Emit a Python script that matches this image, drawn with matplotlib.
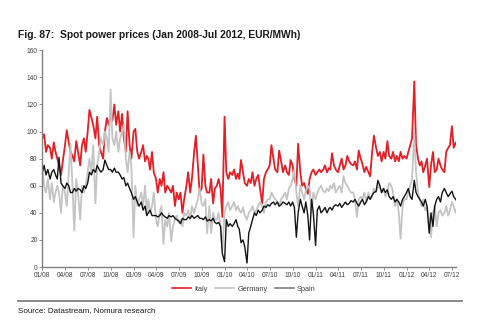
import matplotlib
matplotlib.use("Agg")
import matplotlib.pyplot as plt
import matplotlib.dates as mdates
import pandas as pd
from matplotlib.lines import Line2D

plt.rcParams['font.family'] = ['Liberation Sans', 'DejaVu Sans']

# Weekly spot prices, EUR/MWh, four readings per month (Jan 2008 - Jul 2012)
italy = [
    95, 98, 85, 90,   88, 80, 92, 85,   80, 75, 68, 78,   90, 101, 92, 85,
    82, 78, 93, 85,   75, 90, 95, 85,   100, 116, 110, 105, 95, 111, 90, 85,
    80, 100, 110, 105, 112, 108, 120, 105, 115, 100, 113, 95, 85, 115, 90, 80,
    100, 102, 85, 80, 85, 90, 78, 82,  80, 72, 85, 70,   65, 55, 65, 60,
    70, 55, 60, 58,   55, 60, 45, 55,  50, 55, 40, 50,   60, 70, 55, 65,
    85, 97, 75, 55,   58, 83, 60, 55,  55, 65, 47, 58,   60, 65, 58, 37,
    111, 70, 65, 70,  68, 72, 65, 69,  65, 79, 70, 62,   60, 65, 62, 70,
    60, 65, 68, 58,   47, 65, 70, 72,  75, 90, 80, 72,   70, 86, 78, 70,
    75, 70, 68, 79,   75, 65, 60, 91,  70, 60, 62, 58,   54, 65, 70, 72,
    68, 70, 72, 70,   72, 75, 70, 73,  72, 84, 75, 72,   70, 75, 80, 72,
    75, 82, 78, 76,   75, 78, 72, 86,  80, 76, 70, 74,   70, 67, 85, 97,
    88, 82, 85, 78,   85, 80, 93, 82,  80, 85, 78, 82,   78, 85, 80, 82,
    80, 85, 90, 95,   137, 90, 80, 75, 78, 70, 75, 80,   59, 75, 85, 70,
    72, 80, 75, 72,   70, 85, 88, 90,  104, 88, 92, 88,
]

germany = [
    75, 60, 55, 65,   50, 62, 48, 55,  60, 55, 40, 60,   55, 45, 70, 91,
    60, 27, 65, 55,   35, 60, 55, 60,  70, 80, 70, 90,   47, 75, 85, 95,
    90, 100, 95, 85,  131, 95, 90, 100, 85, 95, 100, 105, 80, 70, 85, 75,
    22, 60, 45, 50,   55, 45, 60, 40,  50, 40, 45, 55,   35, 30, 40, 45,
    17, 35, 30, 40,   19, 30, 35, 38,  33, 35, 30, 40,   38, 42, 35, 45,
    40, 45, 50, 58,   47, 45, 50, 25,  45, 25, 40, 35,   35, 40, 30, 12,
    40, 45, 48, 42,   45, 48, 42, 45,  42, 40, 44, 38,   35, 40, 42, 45,
    40, 42, 45, 48,   45, 40, 48, 50,  50, 55, 52, 50,   48, 45, 50, 52,
    55, 50, 58, 60,   65, 72, 55, 45,  60, 55, 50, 56,   60, 58, 40, 55,
    50, 55, 58, 60,   56, 55, 58, 56,  60, 58, 62, 55,   58, 60, 55, 67,
    62, 60, 57, 55,   55, 50, 37, 50,  52, 50, 55, 48,   55, 50, 52, 58,
    55, 60, 58, 55,   58, 52, 55, 62,  60, 55, 45, 50,   40, 21, 45, 50,
    50, 55, 60, 65,   99, 70, 55, 50,  45, 50, 42, 45,   35, 22, 40, 45,
    30, 40, 42, 38,   40, 45, 38, 42,  48, 45, 40, 45,
]

spain = [
    70, 75, 68, 72,   65, 70, 72, 68,  65, 81, 62, 60,   58, 62, 60, 55,
    55, 58, 56, 58,   57, 55, 60, 58,  62, 70, 68, 72,   70, 75, 72, 70,
    72, 79, 75, 72,   72, 70, 73, 70,  70, 68, 65, 66,   60, 62, 58, 55,
    50, 52, 48, 45,   48, 42, 45, 38,  40, 42, 38, 38,   38, 37, 38, 40,
    38, 37, 36, 38,   37, 38, 36, 35,  34, 32, 36, 35,   35, 37, 36, 38,
    36, 37, 38, 36,   36, 35, 37, 34,  35, 34, 36, 33,   32, 33, 30, 10,
    4, 35, 30, 32,    30, 32, 35, 30,  28, 18, 20, 15,   3, 25, 30, 35,
    40, 38, 42, 40,   42, 45, 44, 46,  45, 47, 48, 46,   48, 45, 46, 48,
    47, 46, 48, 45,   48, 44, 22, 40,  50, 45, 40, 48,   38, 20, 50, 40,
    16, 42, 45, 40,   42, 44, 40, 43,  44, 42, 45, 46,   45, 47, 44, 46,
    48, 46, 47, 49,   48, 50, 47, 45,  48, 50, 46, 48,   52, 50, 53, 55,
    56, 64, 60, 55,   58, 55, 57, 52,  50, 52, 48, 50,   48, 45, 50, 52,
    55, 58, 52, 50,   64, 55, 52, 50,  48, 45, 50, 45,   25, 40, 30, 45,
    50, 52, 48, 55,   58, 55, 52, 54,  56, 52, 50, 48,
]

# Four readings per month, on the 1st, 8th, 16th and 23rd
months = pd.date_range('2008-01-01', '2012-07-01', freq='MS')
dates = [m + pd.Timedelta(days=d) for m in months for d in (0, 7, 15, 22)]

fig = plt.figure(figsize=(4.98, 3.33), dpi=100)
ax = fig.add_axes([0.085, 0.198, 0.831, 0.651])

c_italy = '#e31e26'
c_germany = '#c4c4c4'
c_spain = '#141414'

ax.plot(dates, italy, color=c_italy, lw=1.3)
ax.plot(dates, germany, color=c_germany, lw=1.3)
ax.plot(dates, spain, color=c_spain, lw=1.0)

ax.set_ylim(0, 160)
ax.set_yticks(range(0, 161, 20))
ax.set_xlim(pd.Timestamp('2008-01-01'), pd.Timestamp('2012-07-18'))
ax.xaxis.set_major_locator(mdates.MonthLocator(bymonth=[1, 4, 7, 10]))
ax.xaxis.set_major_formatter(mdates.DateFormatter('%m/%y'))

for s in ['top', 'right']:
    ax.spines[s].set_visible(False)
for s in ['left', 'bottom']:
    ax.spines[s].set_color('#808080')
    ax.spines[s].set_linewidth(1.0)
ax.tick_params(axis='both', labelsize=4.8, colors='#808080', labelcolor='#404040',
               length=2, width=0.6, pad=1.5)

fig.text(0.036, 0.895, 'Fig. 87:  Spot power prices (Jan 2008-Jul 2012, EUR/MWh)',
         fontsize=7.4, fontweight='bold', color='#1a1a1a', va='center')

handles = [Line2D([0], [0], color=c_italy, lw=1.2),
           Line2D([0], [0], color=c_germany, lw=1.2),
           Line2D([0], [0], color='#808080', lw=1.2)]
fig.legend(handles, ['Italy', 'Germany', 'Spain'], loc='center',
           bbox_to_anchor=(0.49, 0.132), ncol=3, frameon=False, fontsize=5.3,
           handlelength=2.6, handletextpad=0.4, columnspacing=1.0,
           labelcolor='#404040')

fig.add_artist(Line2D([0.036, 0.928], [0.096, 0.096], color='#808080', lw=1.3))
fig.text(0.036, 0.066, 'Source: Datastream, Nomura research', fontsize=5.8,
         color='#1a1a1a', va='center')

fig.savefig('out.png', dpi=100)
